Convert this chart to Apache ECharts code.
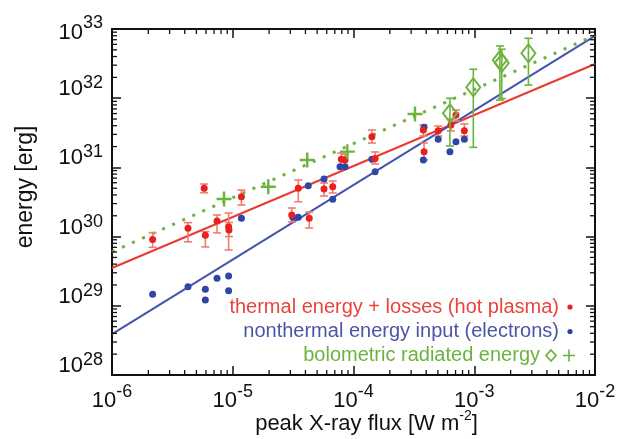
<!DOCTYPE html>
<html><head><meta charset="utf-8">
<script src="https://cdn.jsdelivr.net/npm/echarts@6/dist/echarts.min.js"></script>
<style>html,body{margin:0;padding:0;background:#fff}#c{width:624px;height:439px}</style>
</head><body><div id="c"></div>
<script>
// ---- data ----
const xRange = [1e-6, 1e-2];
const yRange = [1e28, 1e33];

const thermalX  = [2.17e-6, 4.26e-6, 5.8e-6, 5.93e-6, 7.41e-6, 9.24e-6, 9.3e-6, 1.18e-5, 3.08e-5, 3.49e-5, 4.30e-5, 5.70e-5, 6.73e-5, 7.93e-5, 8.51e-5, 1.42e-4, 1.51e-4, 3.79e-4, 3.84e-4, 5.03e-4, 6.40e-4, 7.06e-4, 8.28e-4];
const thermalY  = [9.1e29, 1.32e30, 5.0e30, 1.05e30, 1.68e30, 1.39e30, 1.25e30, 3.77e30, 2.05e30, 4.99e30, 1.84e30, 4.87e30, 5.26e30, 1.31e31, 1.28e31, 2.78e31, 1.35e31, 3.47e31, 1.69e31, 3.39e31, 4.10e31, 5.72e31, 3.39e31];
const thermalLo = [7.0e29, 8.4e29, 4.3e30, 7.1e29, 1.13e30, 6.4e29, 1.0e30, 2.86e30, 1.63e30, 3.19e30, 1.33e30, 3.86e30, 4.27e30, 9.8e30, 1.0e31, 2.25e31, 1.12e31, 2.84e31, 1.28e31, 2.84e31, 3.36e31, 4.69e31, 2.84e31];
const thermalHi = [1.14e30, 1.59e30, 5.75e30, 1.18e30, 2.05e30, 2.19e30, 1.6e30, 4.71e30, 2.59e30, 6.57e30, 2.27e30, 5.95e30, 6.36e30, 1.61e31, 1.55e31, 3.47e31, 1.67e31, 4.10e31, 2.25e31, 3.96e31, 5.0e31, 6.75e31, 4.24e31];

const nonthermalX = [2.17e-6, 4.26e-6, 5.93e-6, 5.93e-6, 7.41e-6, 9.24e-6, 9.24e-6, 1.18e-5, 3.14e-5, 3.49e-5, 4.22e-5, 5.70e-5, 6.73e-5, 7.73e-5, 8.51e-5, 1.42e-4, 1.51e-4, 3.84e-4, 3.79e-4, 5.03e-4, 6.29e-4, 7.06e-4, 8.28e-4];
const nonthermalY = [1.47e29, 1.89e29, 1.73e29, 1.21e29, 2.50e29, 2.70e29, 1.65e29, 1.84e30, 1.90e30, 1.90e30, 5.44e30, 6.80e30, 3.46e30, 1.02e31, 1.02e31, 1.31e31, 8.67e30, 3.80e31, 1.28e31, 2.55e31, 1.69e31, 2.35e31, 2.55e31];

const bolDiamondX  = [6.29e-4, 9.82e-4, 1.63e-3, 1.69e-3, 2.81e-3];
const bolDiamondY  = [6.05e31, 1.44e32, 3.57e32, 3.23e32, 4.46e32];
const bolDiamondLo = [2.04e31, 1.95e31, 9.4e31, 9.9e31, 1.55e32];
const bolDiamondHi = [9.97e31, 2.62e32, 5.68e32, 5.1e32, 7.34e32];

const bolPlusX = [8.47e-6, 1.97e-5, 4.14e-5, 8.89e-5, 3.23e-4];
const bolPlusY = [3.49e30, 5.26e30, 1.28e31, 1.69e31, 5.91e31];

const fitX = [1e-6, 1e-2];
const fitThermal    = [3.52e29, 3.12e32];
const fitNonthermal = [3.9e28, 7.94e32];
const fitBolometric = [6.03e29, 8.13e32];

const legendLabels = ['thermal energy + losses (hot plasma)', 'nonthermal energy input (electrons)', 'bolometric radiated energy'];
const xName = 'peak X-ray flux [W m{s|-2}]';
const yName = 'energy [erg]';

// ---- styling ----
const F = '"Liberation Sans", Arial, Helvetica, sans-serif';
const RED = '#e8211d', RED_ERR = '#f07c72', RED_LINE = '#ec3a2e';
const BLUE = '#2e47a6', BLUE_LINE = '#4453b0';
const GREEN = '#6cb33e';

const minorDecades = (lo, hi) => { const out = []; for (let e = lo; e < hi; e++) for (let m = 2; m <= 9; m++) out.push(m * Math.pow(10, e)); return out; };
const minorX = minorDecades(-6, -2);
const minorY = minorDecades(28, 33);

const chart = echarts.init(document.getElementById('c'), null, {renderer: 'canvas'});
const expOf = v => Math.round(Math.log10(v));

const errRender = (color) => (params, api) => {
  const x = api.value(0), lo = api.value(1), hi = api.value(2);
  const a = api.coord([x, lo]), b = api.coord([x, hi]);
  const w = 4, st = {stroke: color, lineWidth: 1.6};
  return {type: 'group', children: [
    {type: 'line', shape: {x1: a[0], y1: a[1], x2: b[0], y2: b[1]}, style: st},
    {type: 'line', shape: {x1: a[0] - w, y1: a[1], x2: a[0] + w, y2: a[1]}, style: st},
    {type: 'line', shape: {x1: b[0] - w, y1: b[1], x2: b[0] + w, y2: b[1]}, style: st}
  ]};
};

const axisCommon = {
  type: 'log', logBase: 10,
  axisLine: {show: true, onZero: false, lineStyle: {color: '#111', width: 2}},
  axisTick: {show: true, inside: true, length: 9, lineStyle: {color: '#111', width: 1.5}},
  splitLine: {show: false}, minorTick: {show: false}
};

const option = {
  animation: false,
  backgroundColor: '#fff',
  grid: {left: 112, right: 29, top: 29, bottom: 64, containLabel: false, outerBoundsMode: 'none'},
  xAxis: [
    Object.assign({}, axisCommon, {
      min: xRange[0], max: xRange[1], splitNumber: 4, position: 'bottom',
      name: xName, nameLocation: 'middle', nameGap: 34, nameMoveOverlap: false,
      nameTextStyle: {fontSize: 22, fontFamily: F, color: '#111', lineHeight: 30, padding: [0, 0, 0, 26],
        rich: {s: {fontSize: 14, lineHeight: 14, verticalAlign: 'top', fontFamily: F, color: '#111'}}},
      axisLabel: {show: true, margin: 8, color: '#111',
        formatter: v => '{b|10}{s|' + expOf(v) + '}',
        rich: {b: {fontSize: 22, lineHeight: 36, fontFamily: F, color: '#111'},
               s: {fontSize: 18, lineHeight: 12, verticalAlign: 'top', fontFamily: F, color: '#111'}}}
    }),
    Object.assign({}, axisCommon, {min: xRange[0], max: xRange[1], splitNumber: 4, position: 'top', axisLabel: {show: false}})
  ],
  yAxis: [
    Object.assign({}, axisCommon, {
      min: yRange[0], max: yRange[1], splitNumber: 5, position: 'left',
      name: yName, nameLocation: 'middle', nameGap: 75, nameRotate: 90, nameMoveOverlap: false,
      nameTextStyle: {fontSize: 23, fontFamily: F, color: '#111', padding: [0, 0, 0, 30]},
      axisLabel: {show: true, margin: 9, color: '#111', padding: [0, 0, 12, 0],
        formatter: v => { const e = expOf(v); return e === 33 ? '{bt|10}{st|33}' : '{b|10}{s|' + e + '}'; },
        rich: {b: {fontSize: 22, lineHeight: 36, verticalAlign: 'top', padding: [4, 0, 9, 0], fontFamily: F, color: '#111'},
               s: {fontSize: 18, lineHeight: 16, verticalAlign: 'top', fontFamily: F, color: '#111'},
               bt: {fontSize: 22, lineHeight: 36, verticalAlign: 'bottom', fontFamily: F, color: '#111'},
               st: {fontSize: 18, lineHeight: 42, fontFamily: F, color: '#111'}}}
    }),
    Object.assign({}, axisCommon, {min: yRange[0], max: yRange[1], splitNumber: 5, position: 'right', axisLabel: {show: false}})
  ],
  series: [
    {type: 'line', data: fitX.map((x, i) => [x, fitThermal[i]]), symbol: 'none', lineStyle: {color: RED_LINE, width: 2}, z: 2},
    {type: 'line', data: fitX.map((x, i) => [x, fitNonthermal[i]]), symbol: 'none', lineStyle: {color: BLUE_LINE, width: 2}, z: 2},
    {type: 'line', data: fitX.map((x, i) => [x, fitBolometric[i]]), symbol: 'none', lineStyle: {color: GREEN, width: 3, type: [3, 8]}, z: 2},
    {type: 'custom', renderItem: errRender(RED_ERR), data: thermalX.map((x, i) => [x, thermalLo[i], thermalHi[i]]), encode: {x: 0, y: [1, 2]}, z: 3},
    {type: 'scatter', data: nonthermalX.map((x, i) => [x, nonthermalY[i]]), symbol: 'circle', symbolSize: 7, itemStyle: {color: BLUE, opacity: 1}, z: 4},
    {type: 'scatter', data: thermalX.map((x, i) => [x, thermalY[i]]), symbol: 'circle', symbolSize: 7, itemStyle: {color: RED, opacity: 1}, z: 5},
    {type: 'custom', renderItem: errRender(GREEN), data: bolDiamondX.map((x, i) => [x, bolDiamondLo[i], bolDiamondHi[i]]), encode: {x: 0, y: [1, 2]}, z: 6},
    {type: 'scatter', data: bolDiamondX.map((x, i) => [x, bolDiamondY[i]]), symbol: 'diamond', symbolSize: [14, 18],
      itemStyle: {color: 'rgba(255,255,255,0)', borderColor: GREEN, borderWidth: 2, opacity: 1}, z: 7},
    {type: 'scatter', data: bolPlusX.map((x, i) => [x, bolPlusY[i]]), symbol: 'path://M4.2,0h1.6v4.2h4.2v1.6h-4.2v4.2h-1.6v-4.2h-4.2v-1.6h4.2z', symbolSize: 15,
      itemStyle: {color: GREEN, opacity: 1}, z: 7},
    // minor ticks along x (bottom & top)
    {type: 'custom', silent: true, data: minorX.map(v => [v, yRange[0]]), encode: {x: 0, y: 1}, z: 10,
      renderItem: (p, api) => { const v = api.value(0); const a = api.coord([v, yRange[0]]), b = api.coord([v, yRange[1]]);
        const st = {stroke: '#111', lineWidth: 1.3};
        return {type: 'group', children: [
          {type: 'line', shape: {x1: a[0], y1: a[1], x2: a[0], y2: a[1] - 5}, style: st},
          {type: 'line', shape: {x1: b[0], y1: b[1], x2: b[0], y2: b[1] + 5}, style: st}]}; }},
    // minor ticks along y (left & right)
    {type: 'custom', silent: true, data: minorY.map(v => [xRange[0], v]), encode: {x: 0, y: 1}, z: 10,
      renderItem: (p, api) => { const v = api.value(1); const a = api.coord([xRange[0], v]), b = api.coord([xRange[1], v]);
        const st = {stroke: '#111', lineWidth: 1.3};
        return {type: 'group', children: [
          {type: 'line', shape: {x1: a[0], y1: a[1], x2: a[0] + 5, y2: a[1]}, style: st},
          {type: 'line', shape: {x1: b[0], y1: b[1], x2: b[0] - 5, y2: b[1]}, style: st}]}; }}
  ],
  graphic: [
    {type: 'text', x: 559, y: 307, style: {text: legendLabels[0], fill: '#e8443b', font: '20px ' + F, align: 'right', verticalAlign: 'middle', textAlign: 'right', textVerticalAlign: 'middle'}},
    {type: 'circle', shape: {cx: 570, cy: 307, r: 2.6}, style: {fill: RED}},
    {type: 'text', x: 559, y: 331.5, style: {text: legendLabels[1], fill: '#4a56a5', font: '20px ' + F, align: 'right', verticalAlign: 'middle', textAlign: 'right', textVerticalAlign: 'middle'}},
    {type: 'circle', shape: {cx: 570, cy: 331.5, r: 2.6}, style: {fill: BLUE}},
    {type: 'text', x: 540, y: 355.5, style: {text: legendLabels[2], fill: GREEN, font: '20px ' + F, align: 'right', verticalAlign: 'middle', textAlign: 'right', textVerticalAlign: 'middle'}},
    {type: 'polygon', shape: {points: [[551, 350], [556, 355.5], [551, 361], [546, 355.5]]}, style: {fill: 'none', stroke: GREEN, lineWidth: 1.8}},
    {type: 'polygon', shape: {points: [[568.2, 349.5], [569.8, 349.5], [569.8, 354.7], [575, 354.7], [575, 356.3], [569.8, 356.3], [569.8, 361.5], [568.2, 361.5], [568.2, 356.3], [563, 356.3], [563, 354.7], [568.2, 354.7]]}, style: {fill: GREEN}}
  ]
};
chart.setOption(option);
</script></body></html>
